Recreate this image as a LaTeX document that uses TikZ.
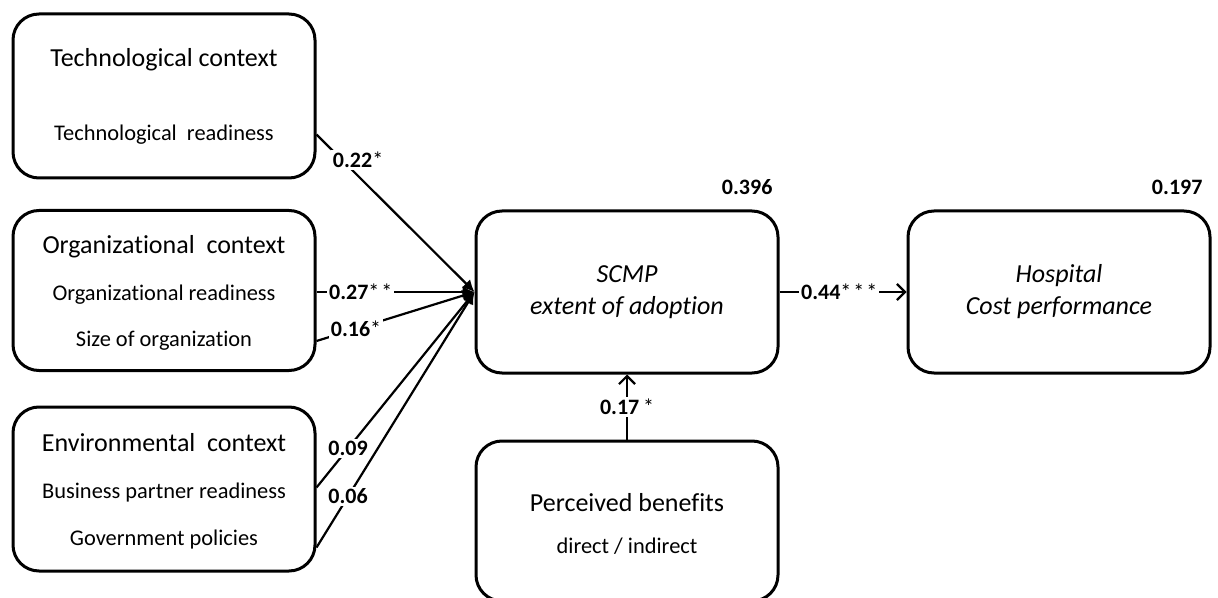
\documentclass[tikz,border=0pt]{standalone}
\usepackage{fontspec}
\setmainfont{Carlito}[Ligatures=NoCommon]
\usetikzlibrary{arrows.meta,calc}

\tikzset{
  box/.style={draw,line width=1.5pt,rounded corners=13pt,minimum width=151pt,inner sep=0pt},
  ttl/.style={font=\fontsize{13}{16}\selectfont},
  sub/.style={font=\fontsize{11.2}{14}\selectfont},
  res/.style={align=center,font=\fontsize{13}{16}\selectfont\itshape},
  lbl/.style={fill=white,inner sep=1pt,font=\fontsize{11}{13}\selectfont},
  rsq/.style={font=\fontsize{11}{13}\selectfont\bfseries,anchor=south east},
  path/.style={line width=1.1pt},
}

\begin{document}
\begin{tikzpicture}[x=0.5pt,y=-0.5pt]
\useasboundingbox (0,0) rectangle (1218,598);
\clip (0,0) rectangle (1218,598);

% context boxes
\node[box,minimum height=82pt] (tech) at (164,96) {};
\node[ttl] (techT) at ($(tech.north)+(0,47)$) {Technological context};
\node[sub] (techS) at ($(tech.north)+(0,122)$) {Technological\ \ readiness};

\node[box,minimum height=80pt] (org) at (164,290.5) {};
\node[ttl] (orgT) at ($(org.north)+(0,38)$) {Organizational\ \ context};
\node[sub] (orgR) at ($(org.north)+(0,86)$) {Organizational readiness};
\node[sub] (orgS) at ($(org.north)+(0,132)$) {Size of organization};

\node[box,minimum height=82pt] (env) at (164,489) {};
\node[ttl] (envT) at ($(env.north)+(0,37)$) {Environmental\ \ context};
\node[sub] (envB) at ($(env.north)+(0,87)$) {Business partner readiness};
\node[sub] (envG) at ($(env.north)+(0,134)$) {Government policies};

% outcome boxes
\node[box,minimum height=81pt,res] (scmp) at (627,292) {SCMP\\extent of adoption};
\node[box,minimum height=81pt,res] (hosp) at (1059,292) {Hospital\\Cost performance};
\node[rsq] (r1) at ($(scmp.north east)+(0,-8)$) {0.396};
\node[rsq] (r2) at ($(hosp.north east)+(-2,-8)$) {0.197};

\node[box,minimum height=80pt] (perc) at (627,521) {};
\node[ttl] (percT) at ($(perc.north)+(0,63)$) {Perceived benefits};
\node[sub] (percS) at ($(perc.north)+(0,107)$) {direct / indirect};

% paths
\draw[path,-{Latex[length=6pt,width=6pt]}] (tech.east |- techS) -- node[lbl,pos=0.2,xshift=5pt,yshift=3pt] {\textbf{0.22}*} (scmp.west);
\draw[path,-{Latex[length=6pt,width=6pt]}] (org.east |- scmp.west) -- node[lbl,pos=0.28] {\textbf{0.27}*\kern1pt*} (scmp.west);
\draw[path,-{Latex[length=6pt,width=6pt]}] (org.east |- orgS) -- node[lbl,pos=0.25] {\textbf{0.16}*} (scmp.west);
\draw[path,-{Latex[length=6pt,width=6pt]}] ($(env.east |- envB)+(0,-5)$) -- node[lbl,pos=0.2] {\textbf{0.09}} (scmp.west);
\draw[path,-{Latex[length=6pt,width=6pt]}] ($(env.east |- envG)+(0,8)$) -- node[lbl,pos=0.2] {\textbf{0.06}} (scmp.west);
\draw[path,-{Straight Barb[length=4pt,width=8pt]}] (scmp.east) -- node[lbl,pos=0.47] {\textbf{0.44}*\kern1pt*\kern1pt*} (hosp.west);
\draw[path,-{Straight Barb[length=4pt,width=8pt]}] (perc.north) -- node[lbl] {\textbf{0.17}\,*} (scmp.south);
\end{tikzpicture}
\end{document}
